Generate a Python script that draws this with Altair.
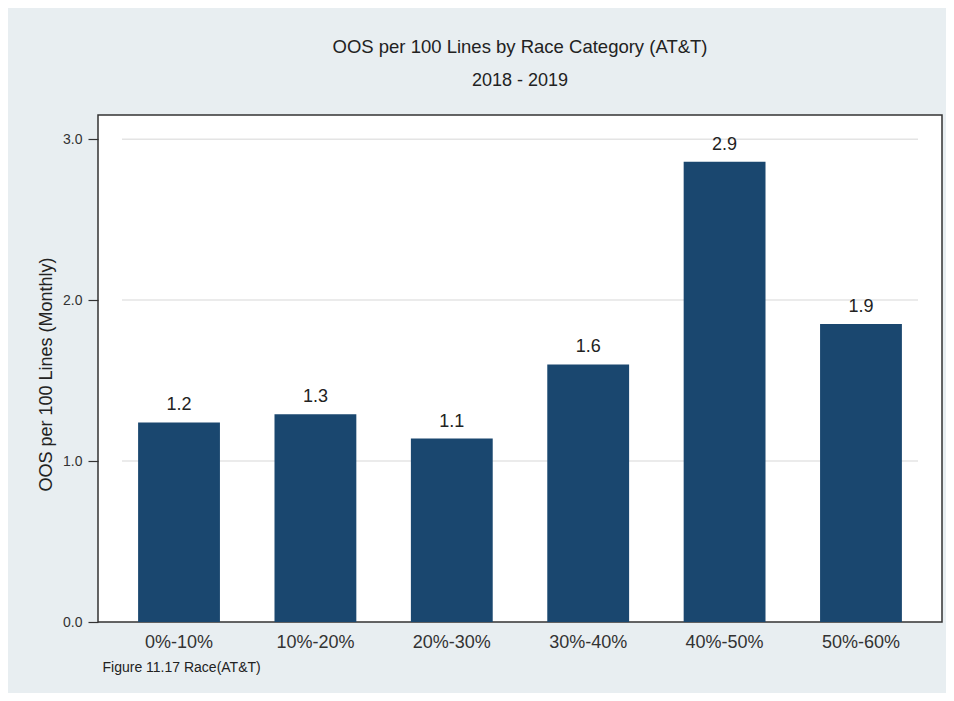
import altair as alt
import pandas as pd

categories = ["0%-10%", "10%-20%", "20%-30%", "30%-40%", "40%-50%", "50%-60%"]
values = [1.24, 1.29, 1.14, 1.60, 2.86, 1.851]
y_ticks = [0, 1, 2, 3]
grid_values = [1, 2, 3]

FONT = "Liberation Sans"
df = pd.DataFrame({"cat": categories, "val": values})
grid_df = pd.DataFrame({"val": grid_values})

yscale = alt.Scale(domain=[0, 3.15], nice=False, zero=True)
xscale = alt.Scale(paddingInner=0.4, paddingOuter=0.294)

yaxis = alt.Axis(
    values=y_ticks, format=".1f", grid=False, domain=False, ticks=True,
    tickSize=10, tickColor="#333333", tickWidth=1.2,
    labelFontSize=14, labelFont=FONT, labelPadding=6, labelColor="#333333",
    title="OOS per 100 Lines (Monthly)", titleFontSize=18, titleFont=FONT,
    titleFontWeight="normal", titleColor="#222222",
    titleAngle=270, titleAlign="center", titleBaseline="middle",
    titleX=-52, titleY=259,
)
xaxis = alt.Axis(
    labelAngle=0, ticks=False, domain=False, labelFontSize=18, labelFont=FONT,
    labelPadding=11, labelColor="#333333",
    title="Figure 11.17 Race(AT&T)", titleFontSize=14, titleFont=FONT,
    titleFontWeight="normal", titleColor="#222222", titleAnchor="start",
    titleAlign="left", titleX=4, titleY=45, titleBaseline="middle",
)

grid = alt.Chart(grid_df).mark_rule(color="#e4e4e4", strokeWidth=1.5).encode(
    y=alt.Y("val:Q", scale=yscale, axis=yaxis),
    x=alt.value(24),
    x2=alt.value(820),
)

bars = alt.Chart(df).mark_bar(color="#1a476f").encode(
    x=alt.X("cat:N", sort=categories, scale=xscale, axis=xaxis),
    y=alt.Y("val:Q", scale=yscale, axis=yaxis),
)
labels = alt.Chart(df).mark_text(
    dy=-12, baseline="alphabetic", fontSize=18, font=FONT, color="#222222"
).encode(
    x=alt.X("cat:N", sort=categories, scale=xscale, axis=xaxis),
    y=alt.Y("val:Q", scale=yscale, axis=yaxis),
    text=alt.Text("val:Q", format=".1f"),
)

chart = alt.layer(grid, bars, labels).properties(
    width=844,
    height=507,
    autosize=alt.AutoSizeParams(type="none"),
    padding={"left": 90, "top": 107, "right": 4, "bottom": 71},
    background="#e8eef1",
    title=alt.TitleParams(
        text="OOS per 100 Lines by Race Category (AT&T)",
        subtitle="2018 - 2019",
        fontSize=18.5, subtitleFontSize=18, font=FONT, subtitleFont=FONT,
        fontWeight="normal", color="#222222", subtitleColor="#222222",
        offset=25, subtitlePadding=16, anchor="middle",
    ),
).configure_view(stroke="#333333", strokeWidth=1.5, fill="white")

chart.save("out.html", embed_options={"renderer": "svg", "actions": False})
